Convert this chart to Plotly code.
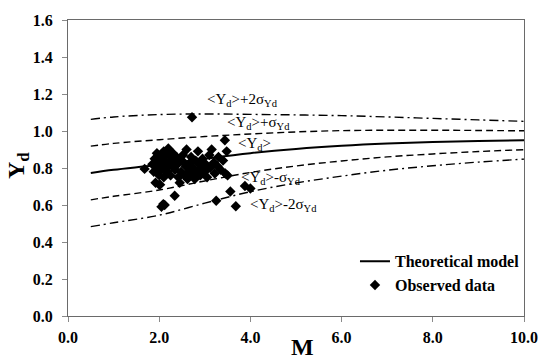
import plotly.graph_objects as go

# Curves
M_curve = [0.5, 1, 2, 3, 4, 5, 6, 7, 8, 9, 10]
mean_Yd = [0.773, 0.79, 0.817, 0.85, 0.88, 0.903, 0.92, 0.932, 0.94, 0.946, 0.95]
plus1 = [0.918, 0.933, 0.953, 0.97, 0.984, 0.995, 1.002, 1.004, 1.004, 1.003, 1.001]
minus1 = [0.628, 0.647, 0.681, 0.73, 0.776, 0.811, 0.838, 0.86, 0.876, 0.889, 0.899]
plus2 = [1.063, 1.076, 1.089, 1.092, 1.09, 1.087, 1.083, 1.076, 1.068, 1.06, 1.052]
minus2 = [0.483, 0.504, 0.545, 0.61, 0.672, 0.719, 0.756, 0.788, 0.812, 0.832, 0.848]

# Observed data
obs_M = [1.68, 1.85, 1.88, 1.9, 1.92, 1.95, 1.97, 2.0, 2.0, 2.02, 2.05, 2.05, 2.08, 2.1, 2.1,
         2.12, 2.15, 2.15, 2.18, 2.2, 2.22, 2.25, 2.25, 2.28, 2.3, 2.32, 2.35, 2.38, 2.4, 2.42,
         2.45, 2.48, 2.5, 2.52, 2.55, 2.58, 2.6, 2.62, 2.65, 2.68, 2.7, 2.72, 2.75, 2.78, 2.8,
         2.82, 2.85, 2.88, 2.9, 2.92, 2.95, 3.0, 3.02, 3.05, 3.1, 3.12, 3.15, 3.2, 3.22, 3.28,
         3.3, 3.35, 3.4, 3.45, 3.48, 3.5,
         2.72, 3.44, 3.25, 3.56, 3.68, 3.88, 4.0, 2.05, 2.09, 2.12, 2.34, 2.0]
obs_Y = [0.795, 0.82, 0.78, 0.85, 0.72, 0.88, 0.80, 0.83, 0.76, 0.71, 0.86, 0.79, 0.82, 0.89, 0.75,
         0.84, 0.80, 0.87, 0.78, 0.905, 0.83, 0.86, 0.76, 0.81, 0.88, 0.84, 0.79, 0.86, 0.82, 0.75,
         0.72, 0.78, 0.84, 0.87, 0.76, 0.81, 0.90, 0.74, 0.78, 0.83, 0.86, 0.76, 0.80, 0.74, 0.84,
         0.78, 0.89, 0.82, 0.76, 0.80, 0.85, 0.78, 0.82, 0.75, 0.87, 0.80, 0.90, 0.83, 0.77, 0.81,
         0.86, 0.79, 0.84, 0.77, 0.89, 0.76,
         1.074, 0.95, 0.623, 0.673, 0.593, 0.703, 0.689, 0.59, 0.605, 0.60, 0.65, 0.71]

x_ticks = [0, 2, 4, 6, 8, 10]
y_ticks = [0.0, 0.2, 0.4, 0.6, 0.8, 1.0, 1.2, 1.4, 1.6]

band_labels = ["&lt;Y<sub>d</sub>&gt;+2σ<sub>Yd</sub>", "&lt;Y<sub>d</sub>&gt;+σ<sub>Yd</sub>",
               "&lt;Y<sub>d</sub>&gt;", "&lt;Y<sub>d</sub>&gt;-σ<sub>Yd</sub>",
               "&lt;Y<sub>d</sub>&gt;-2σ<sub>Yd</sub>"]
label_M = [3.0, 3.45, 3.68, 3.75, 3.94]
label_Y = [1.166, 1.044, 0.93, 0.747, 0.60]

SERIF = "Liberation Serif, Times New Roman, serif"
DASH = "7px,4px"
DASHDOT = "9px,4px,2px,4px"

fig = go.Figure()
fig.add_trace(go.Scatter(x=M_curve, y=plus2, mode="lines", line=dict(color="black", width=1.4, dash=DASHDOT, shape="spline"), showlegend=False, hoverinfo="skip"))
fig.add_trace(go.Scatter(x=M_curve, y=plus1, mode="lines", line=dict(color="black", width=1.4, dash=DASH, shape="spline"), showlegend=False, hoverinfo="skip"))
fig.add_trace(go.Scatter(x=M_curve, y=minus1, mode="lines", line=dict(color="black", width=1.4, dash=DASH, shape="spline"), showlegend=False, hoverinfo="skip"))
fig.add_trace(go.Scatter(x=M_curve, y=minus2, mode="lines", line=dict(color="black", width=1.4, dash=DASHDOT, shape="spline"), showlegend=False, hoverinfo="skip"))
fig.add_trace(go.Scatter(x=M_curve, y=mean_Yd, mode="lines", name="Theoretical model", line=dict(color="black", width=2, shape="spline")))
fig.add_trace(go.Scatter(x=obs_M, y=obs_Y, mode="markers", name="Observed data",
                         marker=dict(symbol="diamond", size=8, color="black")))

for t, mx, my in zip(band_labels, label_M, label_Y):
    fig.add_annotation(x=mx, y=my, text=t, showarrow=False, xanchor="left", yanchor="middle",
                       font=dict(family=SERIF, size=15, color="black"))

# axis titles
fig.add_annotation(xref="paper", yref="paper", x=(307 - 68) / 465, y=(316 - 348) / 302, text="<b>M</b>",
                   showarrow=False, xanchor="center", yanchor="middle",
                   font=dict(family=SERIF, size=24, color="black"))
fig.add_annotation(xref="paper", yref="paper", x=(17 - 68) / 465, y=(316 - 162) / 302, text="<b>Y<sub>d</sub></b>",
                   showarrow=False, xanchor="center", yanchor="middle", textangle=-90,
                   font=dict(family=SERIF, size=24, color="black"))

axis_common = dict(showgrid=False, zeroline=False, showline=True, linecolor="#6a6a6a", linewidth=1.2,
                   mirror=True, ticks="outside", ticklen=5, tickcolor="#8a8a8a",
                   tickfont=dict(family=SERIF, size=16, color="black", weight="bold"))

fig.update_xaxes(range=[0, 10], tickvals=x_ticks, tickformat=".1f", ticklabelstandoff=2, **axis_common)
fig.update_yaxes(range=[0, 1.6], tickvals=y_ticks, tickformat=".1f", ticklabelstandoff=6, **axis_common)

fig.update_layout(
    width=550, height=362,
    margin=dict(l=68, r=17, t=14, b=46),
    plot_bgcolor="white", paper_bgcolor="white",
    legend=dict(x=(534 - 68) / 465, y=(316 - 302) / 302, xanchor="right", yanchor="bottom",
                bgcolor="rgba(0,0,0,0)", itemwidth=30, tracegroupgap=0,
                font=dict(family=SERIF, size=16, color="black", weight="bold")),
)

fig.write_html("out.html", config={"displayModeBar": False},
               post_script="document.body.style.margin='0';")
